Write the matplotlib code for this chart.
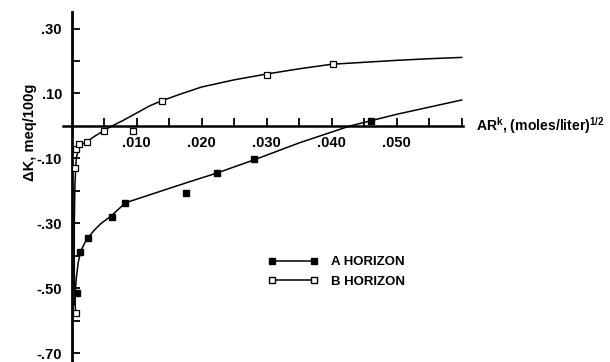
import matplotlib.pyplot as plt
from matplotlib.lines import Line2D

plt.rcParams['font.family'] = ['Liberation Sans', 'DejaVu Sans']
plt.rcParams['mathtext.fontset'] = 'custom'
plt.rcParams['mathtext.rm'] = 'Liberation Sans:bold'
plt.rcParams['mathtext.it'] = 'Liberation Sans:bold'
plt.rcParams['mathtext.bf'] = 'Liberation Sans:bold'
plt.rcParams['mathtext.default'] = 'rm'

# measured points, A horizon (filled squares)
a_x = [0.00086, 0.00128, 0.00255, 0.00615, 0.00825, 0.0176, 0.0223, 0.0281, 0.0460]
a_y = [-0.515, -0.389, -0.344, -0.281, -0.236, -0.207, -0.145, -0.1025, 0.016]

# measured points, B horizon (open squares)
b_x = [0.00060, 0.00046, 0.00066, 0.00108, 0.0023, 0.0050, 0.0095, 0.0139, 0.0300, 0.0402]
b_y = [-0.576, -0.128, -0.072, -0.056, -0.050, -0.0145, -0.014, 0.078, 0.157, 0.190]

# fitted curves as drawn in the figure
a_curve_x = [0.0004, 0.0007, 0.0010, 0.0014, 0.0020, 0.0026, 0.0035, 0.0045, 0.0060,
             0.0072, 0.0083, 0.0100, 0.0150, 0.0190, 0.0223, 0.0281, 0.0350, 0.0428,
             0.0500, 0.0600]
a_curve_y = [-0.55, -0.47, -0.42, -0.385, -0.36, -0.342, -0.32, -0.30, -0.278,
             -0.256, -0.236, -0.225, -0.192, -0.166, -0.145, -0.104, -0.052, 0.000,
             0.036, 0.080]

b_curve_x = [0.0006, 0.0004, 0.0004, 0.0005, 0.0007, 0.0011, 0.0017, 0.0025, 0.0035,
             0.0048, 0.0060, 0.0080, 0.0100, 0.0120, 0.0139, 0.0170, 0.0200, 0.0250,
             0.0300, 0.0350, 0.0400, 0.0450, 0.0500, 0.0550, 0.0600]
b_curve_y = [-0.585, -0.45, -0.30, -0.18, -0.10, -0.066, -0.055, -0.046, -0.032,
             -0.016, -0.002, 0.018, 0.040, 0.062, 0.078, 0.100, 0.120, 0.142,
             0.160, 0.176, 0.190, 0.196, 0.202, 0.207, 0.211]

x_ticks = [0.005, 0.010, 0.015, 0.020, 0.025, 0.030, 0.035, 0.040, 0.045, 0.050, 0.055, 0.060]
x_labels = ['', '.010', '', '.020', '', '.030', '', '.040', '', '.050', '', '']
y_ticks = [0.30, 0.20, 0.10, -0.10, -0.20, -0.30, -0.40, -0.50, -0.60, -0.70]
y_labels = ['.30', '', '.10', '-.10', '', '-.30', '', '-.50', '', '-.70']

fig = plt.figure(figsize=(6.1, 3.62), dpi=100)
ax = fig.add_axes([0, 0, 1, 1])
ax.set_xlim(-0.01103, 0.08282)
ax.set_ylim(-0.7262, 0.3877)

for s in ['top', 'right']:
    ax.spines[s].set_visible(False)
ax.spines['left'].set_position(('data', 0))
ax.spines['bottom'].set_position(('data', 0))
ax.spines['left'].set_bounds(-0.73, 0.35)
ax.spines['bottom'].set_bounds(-0.0013, 0.0602)
ax.spines['left'].set_linewidth(2.0)
ax.spines['bottom'].set_linewidth(1.8)

ax.set_xticks(x_ticks)
ax.set_xticklabels(x_labels)
ax.set_yticks(y_ticks)
ax.set_yticklabels(y_labels)
ax.tick_params(axis='both', direction='in', length=6, width=1.3, labelsize=10.5, pad=7)
for lab in ax.get_xticklabels() + ax.get_yticklabels():
    lab.set_fontweight('bold')

ax.plot(a_curve_x, a_curve_y, color='black', lw=1.1)
ax.plot(b_curve_x, b_curve_y, color='black', lw=1.1)
ax.plot(a_x, a_y, 's', color='black', ms=4.3, ls='none', zorder=5)
ax.plot(b_x, b_y, 's', mfc='white', mec='black', mew=0.9, ms=4.3, ls='none', zorder=5)

ax.text(30 / 610, 1 - 132 / 362, 'ΔK, meq/100g', transform=ax.transAxes, rotation=90,
        ha='center', va='center', fontsize=10.5, fontweight='bold')
ax.text(476 / 610, 1 - 126 / 362, 'AR$^{k}$, (moles/liter)$^{1/2}$', transform=ax.transAxes,
        ha='left', va='center', fontsize=10.1, fontweight='bold')

handles = [Line2D([], [], color='black', lw=1.1, marker='s', ms=4, mfc='black', mec='black'),
           Line2D([], [], color='black', lw=1.1, marker='s', ms=4, mfc='white', mec='black')]
ax.legend(handles, ['A HORIZON', 'B HORIZON'], loc='upper left',
          bbox_to_anchor=(268 / 610, 1 - 256 / 362), frameon=False, numpoints=2,
          handlelength=3.8, handletextpad=1.0, labelspacing=0.55, borderpad=0,
          borderaxespad=0, prop={'size': 9.5, 'weight': 'bold'})

fig.savefig('out.png', dpi=100)
